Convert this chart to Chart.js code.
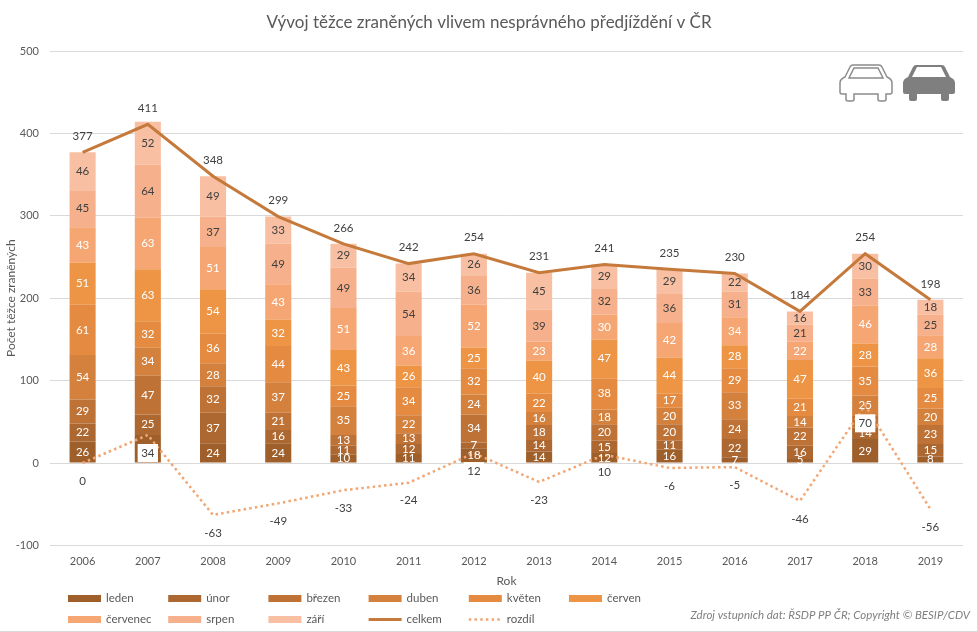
<!DOCTYPE html>
<html lang="cs">
<head>
<meta charset="utf-8">
<title>Vývoj těžce zraněných</title>
<style>
  html, body { margin: 0; padding: 0; background: #fff; }
  #wrap { position: relative; width: 978px; height: 632px; overflow: hidden; }
  #wrap:after { content: ""; position: absolute; inset: 0; border: 1px solid #d9d9d9; border-left: 0; border-top: 0; pointer-events: none; }
  canvas { display: block; }
  .car { position: absolute; top: 64px; width: 52px; height: 37px; overflow: visible; }
</style>
</head>
<body>
<div id="wrap">
  <canvas id="chart" width="978" height="632"></canvas>
  <svg class="car" style="left:840px" viewBox="0 0 52 37">
    <path d="M13 1H39Q41 1 42 3L47 13Q52 15 52 19V28Q52 30 50 30H46V35Q46 37 44 37H40Q38 37 38 35V30H14V35Q14 37 12 37H8Q6 37 6 35V30H2Q0 30 0 28V19Q0 15 5 13L10 3Q11 1 13 1Z" fill="#fff" stroke="#8c8c8c" stroke-width="1.5"/>
    <path d="M14 4H38L43 14H9Z" fill="none" stroke="#8c8c8c" stroke-width="1.5"/>
  </svg>
  <svg class="car" style="left:903px" viewBox="0 0 52 37">
    <path d="M13 1H39Q41 1 42 3L47 13Q52 15 52 19V28Q52 30 50 30H46V35Q46 37 44 37H40Q38 37 38 35V30H14V35Q14 37 12 37H8Q6 37 6 35V30H2Q0 30 0 28V19Q0 15 5 13L10 3Q11 1 13 1Z" fill="#7f7f7f"/>
    <path d="M14 3H38L43 13H9Z" fill="#fff"/>
  </svg>
</div>
<script src="https://cdn.jsdelivr.net/npm/chart.js@4"></script>
<script>
const years = ["2006","2007","2008","2009","2010","2011","2012","2013","2014","2015","2016","2017","2018","2019"];

const leden    = [26,34,24,24,10,11,18,14,12,16,7,5,29,8];
const unor     = [22,25,37,16,11,12,7,14,15,11,22,16,14,15];
const brezen   = [29,47,32,21,13,13,34,18,20,20,24,22,14,23];
const duben    = [54,34,28,37,35,22,24,16,18,20,33,14,25,20];
const kveten   = [61,32,36,44,25,34,32,22,38,17,29,21,35,25];
const cerven   = [51,63,54,32,43,26,25,40,47,44,28,47,28,36];
const cervenec = [43,63,51,43,51,36,52,23,30,42,34,22,46,28];
const srpen    = [45,64,37,49,49,54,36,39,32,36,31,21,33,25];
const zari     = [46,52,49,33,29,34,26,45,29,29,22,16,30,18];
const celkem   = [377,411,348,299,266,242,254,231,241,235,230,184,254,198];
const rozdil   = [0,34,-63,-49,-33,-24,12,-23,10,-6,-5,-46,70,-56];

const FONT = "Lato, Carlito, sans-serif";
const TITLE = "Vývoj těžce zraněných vlivem nesprávného předjíždění v ČR";
const SOURCE = "Zdroj vstupních dat: ŘSDP PP ČR; Copyright © BESIP/CDV";

function bar(label, data, color, labelColor) {
  return { type: "bar", label, data, backgroundColor: color, borderWidth: 0,
           stack: "mesice", order: 2, barPercentage: 0.4, categoryPercentage: 1, labelColor };
}

const datasets = [
  bar("leden", leden, "#9f5f2b", "#fff"),
  bar("únor", unor, "#ad6831", "#fff"),
  bar("březen", brezen, "#bf7236", "#fff"),
  bar("duben", duben, "#d4813d", "#fff"),
  bar("květen", kveten, "#e48b41", "#fff"),
  bar("červen", cerven, "#ee9445", "#fff"),
  bar("červenec", cervenec, "#f5a672", "#fff"),
  bar("srpen", srpen, "#f6b18c", "#404040"),
  bar("září", zari, "#f8bfa2", "#404040"),
  { type: "line", label: "celkem", data: celkem, stack: "celkem", order: 1,
    borderColor: "#c57a3c", borderWidth: 3, pointRadius: 0, tension: 0, fill: false },
  { type: "line", label: "rozdíl", data: rozdil, stack: "rozdil", order: 1,
    borderColor: "#f1a673", borderWidth: 2.5, borderDash: [2.5, 3.2], pointRadius: 0, tension: 0, fill: false }
];

// hodnoty v segmentech, celkem nad sloupcem, rozdil pod bodem v bilem rameckem
const valueLabels = {
  id: "valueLabels",
  afterDatasetsDraw(chart) {
    const ctx = chart.ctx;
    ctx.save();
    ctx.font = "11.5px " + FONT;
    ctx.textAlign = "center";
    ctx.textBaseline = "middle";
    chart.data.datasets.forEach((ds, i) => {
      if (ds.type !== "bar") return;
      chart.getDatasetMeta(i).data.forEach((el, j) => {
        const p = el.getProps(["x", "y", "base"], true);
        ctx.fillStyle = ds.labelColor;
        ctx.fillText(ds.data[j], p.x, (p.y + p.base) / 2);
      });
    });
    const totalIdx = chart.data.datasets.findIndex((d) => d.label === "celkem");
    chart.getDatasetMeta(totalIdx).data.forEach((pt, j) => {
      ctx.fillStyle = "#404040";
      ctx.fillText(celkem[j], pt.x, pt.y - 16);
    });
    const diffIdx = chart.data.datasets.findIndex((d) => d.label === "rozdíl");
    chart.getDatasetMeta(diffIdx).data.forEach((pt, j) => {
      const txt = String(rozdil[j]);
      const w = ctx.measureText(txt).width + 7;
      ctx.fillStyle = "#fff";
      ctx.fillRect(pt.x - w / 2, pt.y + 18 - 9, w, 18);
      ctx.fillStyle = "#404040";
      ctx.fillText(txt, pt.x, pt.y + 18);
    });
    ctx.restore();
  }
};

// legenda v mrizce jako v Excelu, 6 sloupcu po 100 px
const gridLegend = {
  id: "gridLegend",
  afterDraw(chart) {
    const ctx = chart.ctx;
    ctx.save();
    ctx.font = "17px " + FONT;
    ctx.textAlign = "center";
    ctx.textBaseline = "middle";
    ctx.fillStyle = "#595959";
    ctx.fillText(TITLE, 489, 23);
    ctx.textAlign = "left";
    ctx.font = "11.5px " + FONT;
    chart.data.datasets.forEach((ds, i) => {
      const x = 68 + (i % 6) * 100.2;
      const y = i < 6 ? 598.5 : 619.5;
      if (ds.type === "bar") {
        ctx.fillStyle = ds.backgroundColor;
        ctx.fillRect(x, y - 3.5, 33, 7);
      } else {
        ctx.beginPath();
        ctx.strokeStyle = ds.borderColor;
        ctx.lineWidth = ds.borderWidth;
        ctx.setLineDash(ds.borderDash || []);
        ctx.moveTo(x, y);
        ctx.lineTo(x + 33, y);
        ctx.stroke();
        ctx.setLineDash([]);
      }
      ctx.fillStyle = "#595959";
      ctx.fillText(ds.label, x + 38, y);
    });
    ctx.font = "italic 11.5px " + FONT;
    ctx.textAlign = "right";
    ctx.fillStyle = "#7f7f7f";
    ctx.fillText(SOURCE, 970, 615);
    ctx.restore();
  }
};

new Chart(document.getElementById("chart"), {
  type: "bar",
  data: { labels: years, datasets },
  plugins: [valueLabels, gridLegend],
  options: {
    responsive: false,
    animation: false,
    layout: { padding: { left: 4, right: 15, top: 51, bottom: 44 } },
    plugins: {
      legend: { display: false },
      tooltip: { enabled: false },
      title: { display: false }
    },
    scales: {
      x: {
        stacked: true,
        grid: { display: false },
        border: { display: false },
        ticks: { color: "#595959", font: { family: FONT, size: 11 }, padding: 1, maxRotation: 0 },
        title: { display: true, text: "Rok", color: "#595959", font: { family: FONT, size: 12 }, padding: { top: 5, bottom: 0 } }
      },
      y: {
        stacked: true,
        min: -100,
        max: 500,
        grid: { color: "#d9d9d9", drawTicks: false },
        border: { display: false },
        afterFit(axis) { axis.width = 46; },
        ticks: { stepSize: 100, color: "#595959", font: { family: FONT, size: 11 }, padding: 11 },
        title: { display: true, text: "Počet těžce zraněných", color: "#595959", font: { family: FONT, size: 12 }, padding: 0 }
      }
    }
  }
});
</script>
</body>
</html>
